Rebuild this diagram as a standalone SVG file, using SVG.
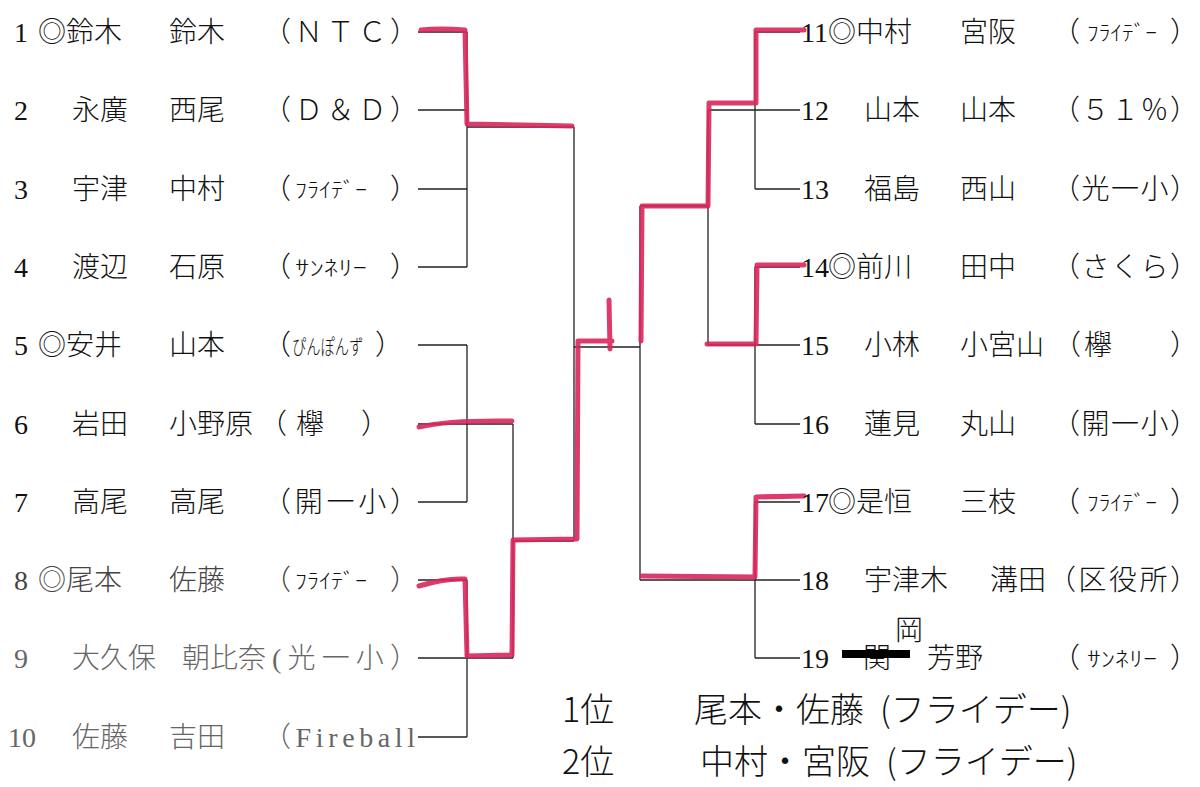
<svg xmlns="http://www.w3.org/2000/svg" width="1200" height="787" viewBox="0 0 1200 787">
<style>
.t{font-family:"Liberation Serif","Noto Sans CJK JP",serif;font-size:28px;fill:#111;font-weight:300}
.g1{fill:#444}
.g2{fill:#666}
.k{font-family:"Noto Sans CJK JP",sans-serif;font-size:21px;fill:#111;font-weight:300}
.c{font-family:"Noto Sans CJK JP",sans-serif;font-weight:300}
.ln{fill:none;stroke:#222;stroke-width:1.3}
.red{fill:none;stroke:#d8265c;stroke-width:5;stroke-linejoin:round;stroke-linecap:round;opacity:0.9}
.hw{font-family:"Noto Sans CJK JP",sans-serif;font-size:34px;fill:#111;font-weight:300}
</style>
<rect width="1200" height="787" fill="#fff"/>

<g id="connectors">
<path class="ln" d="M418,32H467M418,110H467M418,189H467M418,267H467M467,32V267M467,127H574M574,127V541M574,347H640"/>
<path class="ln" d="M418,345H467M418,424H513M418,502H467M467,345V502M418,580H467M418,658H513M418,737H467M467,580V737M513,424V658M513,541H574"/>
<path class="ln" d="M755,32H800M708,110H800M755,189H800M755,32V189M755,267H800M708,345H800M755,424H800M755,267V424M708,110V345M640,206H708M755,502H800M640,580H800M755,658H800M755,502V658M640,206V580"/>
<path class="red" d="M421,30Q440,28 465,30L467,124L572,126"/>
<path class="red" d="M419,427Q450,420 512,421"/>
<path class="red" d="M419,586Q445,578 465,579L467,656L512,655L513,540L577,539L578,341L612,341M609,300L610,349"/>
<path class="red" d="M804,30L756,30L756,103L709,103L708,206L642,206L641,341"/>
<path class="red" d="M804,265L757,265L756,344L707,344"/>
<path class="red" d="M804,496L756,497L755,577L642,576"/>
</g>

<g id="n1"><text class="t" x="14" y="42">1</text><text class="t" x="38" y="42">◎鈴木</text><text class="t" x="169" y="42">鈴木</text><text class="t" x="263" y="42" textLength="155" lengthAdjust="spacing">（ＮＴＣ）</text></g>
<g id="n2"><text class="t" x="14" y="120">2</text><text class="t" x="72" y="120">永廣</text><text class="t" x="169" y="120">西尾</text><text class="t" x="263" y="120" textLength="155" lengthAdjust="spacing">（Ｄ＆Ｄ）</text></g>
<g id="n3"><text class="t" x="14" y="199">3</text><text class="t" x="72" y="199">宇津</text><text class="t" x="169" y="199">中村</text><text class="t" x="263" y="199">（</text><text class="k" x="295" y="197" textLength="72" lengthAdjust="spacingAndGlyphs">ﾌﾗｲﾃﾞｰ</text><text class="t" x="390" y="199">）</text></g>
<g id="n4"><text class="t" x="14" y="277">4</text><text class="t" x="72" y="277">渡辺</text><text class="t" x="169" y="277">石原</text><text class="t" x="263" y="277">（</text><text class="k" x="295" y="275" textLength="72" lengthAdjust="spacingAndGlyphs">ｻﾝﾈﾘｰ</text><text class="t" x="390" y="277">）</text></g>
<g id="n5"><text class="t" x="14" y="355">5</text><text class="t" x="38" y="355">◎安井</text><text class="t" x="169" y="355">山本</text><text class="t" x="263" y="355">（</text><text class="k" transform="translate(292,354) scale(0.68,1)" x="0" y="0">ぴんぽんず</text><text class="t" x="375" y="355">）</text></g>
<g id="n6"><text class="t" x="14" y="434">6</text><text class="t" x="72" y="434">岩田</text><text class="t" x="169" y="434">小野原</text><text class="t" x="259" y="434">（</text><text class="t" x="296" y="434">欅</text><text class="t" x="361" y="434">）</text></g>
<g id="n7"><text class="t" x="14" y="512">7</text><text class="t" x="72" y="512">高尾</text><text class="t" x="169" y="512">高尾</text><text class="t" x="263" y="512" textLength="155" lengthAdjust="spacing">（開一小）</text></g>
<g id="n8"><text class="t g1" x="14" y="590">8</text><text class="t g1" x="38" y="590">◎尾本</text><text class="t g1" x="169" y="590">佐藤</text><text class="t g1" x="263" y="590">（</text><text class="k g1" x="295" y="588" textLength="72" lengthAdjust="spacingAndGlyphs">ﾌﾗｲﾃﾞｰ</text><text class="t g1" x="390" y="590">）</text></g>
<g id="n9"><text class="t g2" x="14" y="668">9</text><text class="t g2" x="72" y="668">大久保</text><text class="t g2" x="182" y="668">朝比奈</text><text class="t g2" x="272" y="668" textLength="146" lengthAdjust="spacing">(光一小）</text></g>
<g id="n10"><text class="t g2" x="8" y="747">10</text><text class="t g2" x="72" y="747">佐藤</text><text class="t g2" x="169" y="747">吉田</text><text class="t g2" x="263" y="747" textLength="152" lengthAdjust="spacing">（Fireball</text></g>

<g id="n11"><text class="t" x="801" y="42">11</text><text class="t" x="828" y="42">◎中村</text><text class="t" x="960" y="42">宮阪</text><text class="t" x="1052" y="42">（</text><text class="k" x="1087" y="40" textLength="70" lengthAdjust="spacingAndGlyphs">ﾌﾗｲﾃﾞｰ</text><text class="t" x="1170" y="42">）</text></g>
<g id="n12"><text class="t" x="801" y="120">12</text><text class="t" x="864" y="120">山本</text><text class="t" x="960" y="120">山本</text><text class="t" x="1052" y="120" textLength="146" lengthAdjust="spacing">（５１％）</text></g>
<g id="n13"><text class="t" x="801" y="199">13</text><text class="t" x="864" y="199">福島</text><text class="t" x="960" y="199">西山</text><text class="t" x="1052" y="199" textLength="146" lengthAdjust="spacing">（光一小）</text></g>
<g id="n14"><text class="t" x="801" y="277">14</text><text class="t" x="828" y="277">◎前川</text><text class="t" x="960" y="277">田中</text><text class="t" x="1052" y="277" textLength="146" lengthAdjust="spacing">（さくら）</text></g>
<g id="n15"><text class="t" x="801" y="355">15</text><text class="t" x="864" y="355">小林</text><text class="t" x="960" y="355">小宮山</text><text class="t" x="1053" y="355">（</text><text class="t" x="1084" y="355">欅</text><text class="t" x="1170" y="355">）</text></g>
<g id="n16"><text class="t" x="801" y="434">16</text><text class="t" x="864" y="434">蓮見</text><text class="t" x="960" y="434">丸山</text><text class="t" x="1052" y="434" textLength="146" lengthAdjust="spacing">（開一小）</text></g>
<g id="n17"><text class="t" x="801" y="512">17</text><text class="t" x="828" y="512">◎是恒</text><text class="t" x="960" y="512">三枝</text><text class="t" x="1052" y="512">（</text><text class="k" x="1087" y="510" textLength="70" lengthAdjust="spacingAndGlyphs">ﾌﾗｲﾃﾞｰ</text><text class="t" x="1170" y="512">）</text></g>
<g id="n18"><text class="t" x="801" y="590">18</text><text class="t" x="864" y="590">宇津木</text><text class="t" x="990" y="590">溝田</text><text class="t" x="1048" y="590" textLength="150" lengthAdjust="spacing">（区役所）</text></g>
<g id="n19"><text class="t" x="801" y="668">19</text><text class="t" x="863" y="668">関</text><rect x="842" y="650" width="68" height="8" fill="#000"/><text class="c" x="895" y="640" font-size="28" fill="#111">岡</text><text class="t" x="927" y="668">芳野</text><text class="t" x="1052" y="668">（</text><text class="k" x="1087" y="666" textLength="70" lengthAdjust="spacingAndGlyphs">ｻﾝﾈﾘｰ</text><text class="t" x="1170" y="668">）</text></g>

<g id="result">
<text class="hw" x="562" y="722">1位</text><text class="hw" x="694" y="722">尾本・佐藤</text><text class="hw" x="880" y="722">(フライデー)</text>
<text class="hw" x="562" y="774">2位</text><text class="hw" x="700" y="774">中村・宮阪</text><text class="hw" x="886" y="774">(フライデー)</text>
</g>
</svg>
